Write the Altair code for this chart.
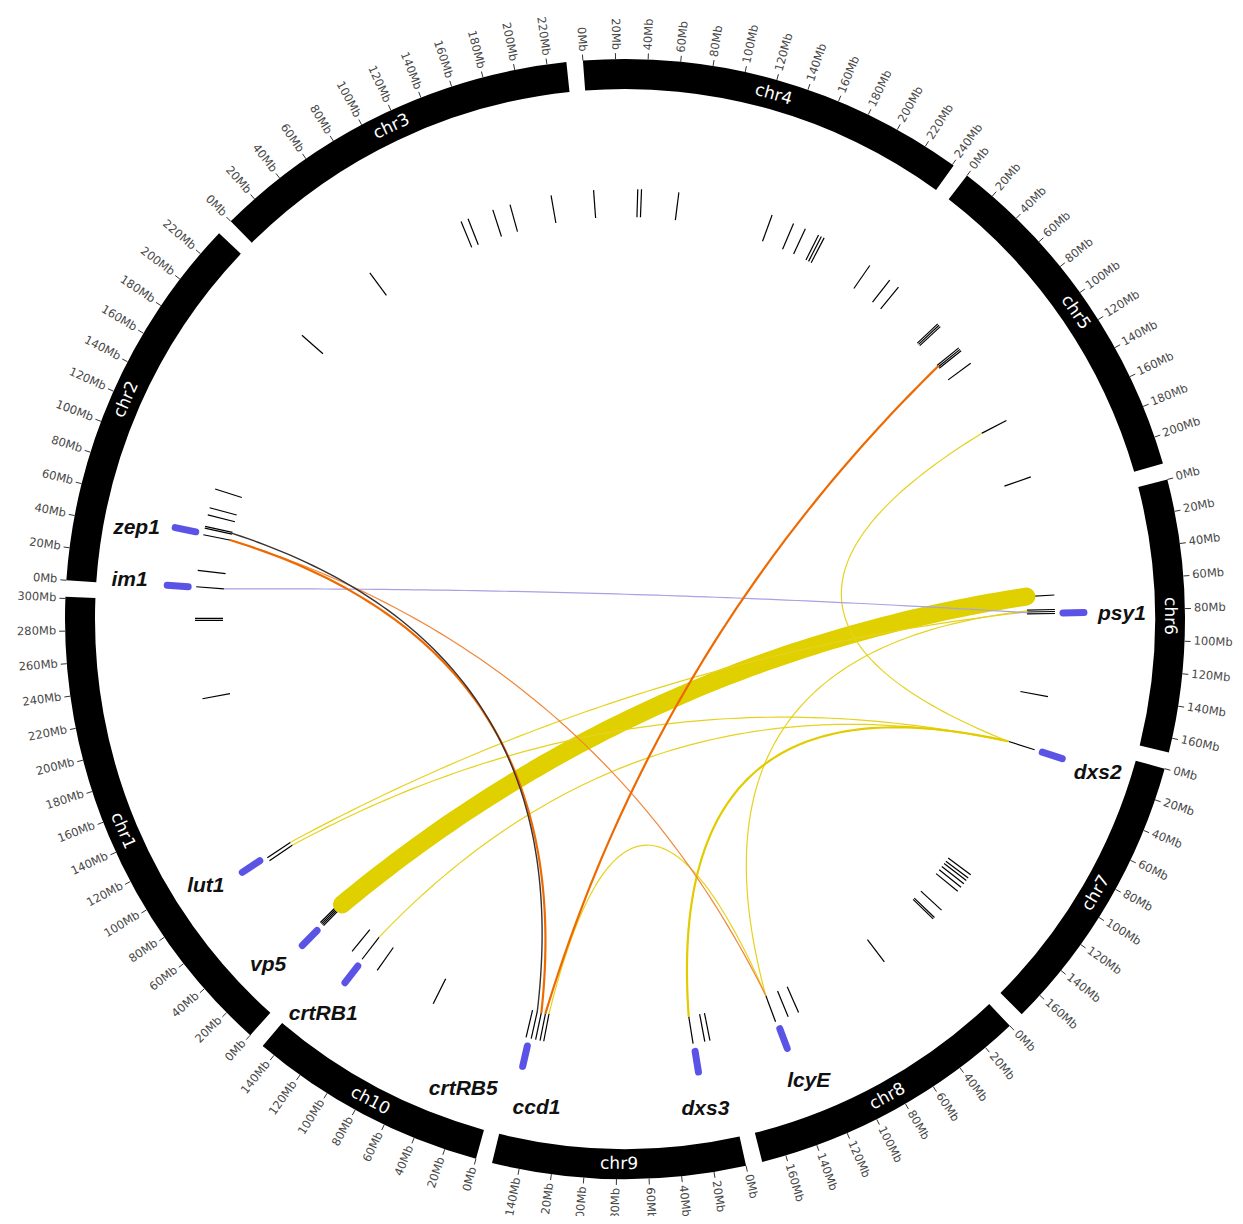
import math
import pandas as pd
import altair as alt

# ---------------- data ----------------
chrom_names = ["chr1", "chr2", "chr3", "chr4", "chr5", "chr6", "chr7", "chr8", "chr9", "chr10"]
chrom_labels = ["chr1", "chr2", "chr3", "chr4", "chr5", "chr6", "chr7", "chr8", "chr9", "ch10"]
chrom_len_mb = [301, 237, 232, 241, 217, 169, 176, 175, 157, 149]
tick_step_mb = 20

# short black feature lines (chromosome, Mb)
feat_chr = (["chr1"] * 9 + ["chr2"] * 9 + ["chr3"] * 6 + ["chr4"] * 11 + ["chr5"] * 11
            + ["chr6"] * 5 + ["chr7"] * 10 + ["chr8"] * 4 + ["chr9"] * 8 + ["chr10"] * 4)
feat_mb = ([15.0, 16.2, 17.4, 18.6, 82.5, 85.5, 223.4, 286.3, 288.0]
           + [2.0, 15.1, 43.9, 49.3, 50.7, 60.1, 66.0, 81.6, 223.5]
           + [50.0, 133.8, 139.8, 160.8, 175.1, 208.7]
           + [0.7, 36.0, 39.0, 68.9, 145.6, 164.0, 174.3, 186.0, 188.5, 191.0, 233.6]
           + [2.2, 11.1, 54.0, 55.5, 57.0, 79.5, 81.0, 82.5, 95.0, 148.9, 198.0]
           + [67.2, 78.8, 80.4, 82.0, 148.6]
           + [13.2, 125.7, 129.0, 131.5, 134.7, 138.3, 142.5, 162.3, 170.5, 172.0]
           + [37.8, 117.4, 126.4, 137.2]
           + [6.5, 10.7, 20.2, 140.0, 143.0, 146.6, 150.2, 154.4]
           + [66.2, 118.3, 133.3, 143.5])

# blue gene markers
marker_names = ["zep1", "im1", "psy1", "dxs2", "lut1", "vp5", "crtRB1", "ccd1", "dxs3", "lcyE"]
marker_chr = ["chr2", "chr2", "chr6", "chr7", "chr1", "chr1", "chr10", "chr9", "chr9", "chr8"]
marker_mb = [45.0, 1.5, 81.6, 13.2, 86.8, 16.0, 132.7, 151.9, 19.6, 136.0]

# gene name labels
label_names = ["zep1", "im1", "psy1", "dxs2", "lut1", "vp5", "crtRB1", "crtRB5", "ccd1", "dxs3", "lcyE"]
label_chr = ["chr2", "chr2", "chr6", "chr7", "chr1", "chr1", "chr10", "chr10", "chr9", "chr9", "chr8"]
label_mb = [39.7, 3.2, 82.8, 15.0, 92.8, 23.4, 131.5, 21.3, 136.2, 19.0, 130.0]

# links between loci
link_chr_a = ["chr2", "chr2", "chr2", "chr2", "chr1", "chr9", "chr1", "chr1", "chr10", "chr5", "chr6", "chr7", "chr9"]
link_mb_a = [49.9, 43.9, 43.9, 2.0, 16.5, 143.0, 85.5, 82.5, 133.3, 148.9, 79.5, 13.2, 140.0]
link_chr_b = ["chr9", "chr9", "chr8", "chr6", "chr6", "chr5", "chr6", "chr7", "chr7", "chr7", "chr8", "chr9", "chr8"]
link_mb_b = [150.2, 146.6, 137.2, 81.0, 67.2, 80.6, 80.4, 13.2, 13.2, 13.2, 137.2, 20.2, 137.2]
link_kind = ["dark", "orange", "orange_thin", "purple", "main", "orange", "yellow", "yellow",
             "yellow", "yellow", "yellow", "yellow_bold", "yellow"]

# ---------------- layout ----------------
START_DEG = 222.0
DEG_PER_MB = 0.167
GAP_DEG = 1.7
R_OUT, R_IN = 560, 530
R_TICK0, R_TICK1 = 560, 566
R_TICKLAB = 569
R_CHRLAB = 545
R_FEAT0, R_FEAT1 = 402, 430
R_MARK0, R_MARK1 = 438, 459
R_GENELAB = 497
R_LINK = 402

chrom_start = {}
acc = START_DEG
for n, L in zip(chrom_names, chrom_len_mb):
    chrom_start[n] = acc
    acc += L * DEG_PER_MB + GAP_DEG


def ang(c, mb):
    return (chrom_start[c] + mb * DEG_PER_MB) % 360


def xy(r, deg):
    a = math.radians(deg)
    return r * math.sin(a), r * math.cos(a)


xs = alt.Scale(domain=[-617, 610], nice=False, zero=False)
ys = alt.Scale(domain=[-597, 611], nice=False, zero=False)


def X(f):
    return alt.X(f, type="quantitative", scale=xs, axis=None)


def Y(f):
    return alt.Y(f, type="quantitative", scale=ys, axis=None)


# chromosome ring
ring_rows, chrlab_rows = [], []
for n, lab, L in zip(chrom_names, chrom_labels, chrom_len_mb):
    s = chrom_start[n]
    e = s + L * DEG_PER_MB
    ring_rows.append({"chr": n, "cx": 0, "cy": 0, "t0": math.radians(s), "t1": math.radians(e)})
    mid = ((s + e) / 2) % 360
    a = (mid - 180) if 90 < mid < 270 else mid
    x, y = xy(R_CHRLAB, mid)
    chrlab_rows.append({"label": lab, "x": x, "y": y, "angle": a % 360})
ring_df = pd.DataFrame(ring_rows)
chrlab_df = pd.DataFrame(chrlab_rows)

# ticks
tick_rows = []
for n, L in zip(chrom_names, chrom_len_mb):
    for mb in range(0, L + 1, tick_step_mb):
        t = ang(n, mb)
        x0, y0 = xy(R_TICK0, t)
        x1, y1 = xy(R_TICK1, t)
        xl, yl = xy(R_TICKLAB, t)
        if t < 180:
            half, a = "R", (t - 90) % 360
        else:
            half, a = "L", (t - 270) % 360
        tick_rows.append({"x": x0, "y": y0, "x2": x1, "y2": y1, "xl": xl, "yl": yl,
                          "label": f"{mb}Mb", "half": half, "angle": a})
tick_df = pd.DataFrame(tick_rows)

# features
feat_rows = []
for c, mb in zip(feat_chr, feat_mb):
    t = ang(c, mb)
    x0, y0 = xy(R_FEAT0, t)
    x1, y1 = xy(R_FEAT1, t)
    feat_rows.append({"x": x0, "y": y0, "x2": x1, "y2": y1})
feat_df = pd.DataFrame(feat_rows)

# markers
mark_rows = []
for g, c, mb in zip(marker_names, marker_chr, marker_mb):
    t = ang(c, mb)
    x0, y0 = xy(R_MARK0, t)
    x1, y1 = xy(R_MARK1, t)
    mark_rows.append({"gene": g, "x": x0, "y": y0, "x2": x1, "y2": y1})
mark_df = pd.DataFrame(mark_rows)

# gene labels
glab_rows = []
for g, c, mb in zip(label_names, label_chr, label_mb):
    x, y = xy(R_GENELAB, ang(c, mb))
    glab_rows.append({"gene": g, "x": x, "y": y})
glab_df = pd.DataFrame(glab_rows)

# links as quadratic bezier curves
link_rows = []
NSTEP = 80
for i, (ca, ma, cb, mbb, k) in enumerate(zip(link_chr_a, link_mb_a, link_chr_b, link_mb_b, link_kind)):
    ta, tb = ang(ca, ma), ang(cb, mbb)
    d = ((tb - ta + 540) % 360) - 180
    bis = ta + d / 2
    rb = 30 + 45 * (1 - abs(d) / 180)
    p0 = xy(R_LINK, ta)
    p2 = xy(R_LINK, tb)
    p1 = xy(rb, bis)
    for j in range(NSTEP + 1):
        u = j / NSTEP
        x = (1 - u) ** 2 * p0[0] + 2 * (1 - u) * u * p1[0] + u ** 2 * p2[0]
        y = (1 - u) ** 2 * p0[1] + 2 * (1 - u) * u * p1[1] + u ** 2 * p2[1]
        link_rows.append({"lid": i, "t": j, "x": x, "y": y, "kind": k})
link_df = pd.DataFrame(link_rows)

link_style = [  # drawing order: first = bottom
    ("main", "#E0D000", 18),
    ("yellow", "#E6D21E", 1.2),
    ("yellow_bold", "#E2CC00", 2.2),
    ("purple", "#A7A2E2", 1.2),
    ("orange_thin", "#F0873A", 1.2),
    ("orange", "#EE6A00", 2.2),
    ("dark", "#3A3030", 1.4),
]

layers = []
ring = alt.Chart(ring_df).mark_arc(innerRadius=R_IN, outerRadius=R_OUT, color="black").encode(
    x=X("cx"), y=Y("cy"),
    theta=alt.Theta("t0:Q", scale=None), theta2=alt.Theta2("t1:Q"))
layers.append(ring)

ticks = alt.Chart(tick_df).mark_rule(color="#333333", strokeWidth=1).encode(
    x=X("x"), y=Y("y"), x2=alt.X2("x2:Q"), y2=alt.Y2("y2:Q"))
layers.append(ticks)

for half, al in (("R", "left"), ("L", "right")):
    layers.append(alt.Chart(tick_df).transform_filter(alt.datum.half == half).mark_text(
        align=al, baseline="middle", font="DejaVu Sans", fontSize=11.5, color="#484848").encode(
        x=X("xl"), y=Y("yl"), text="label:N", angle=alt.Angle("angle:Q", scale=None)))

layers.append(alt.Chart(chrlab_df).mark_text(
    align="center", baseline="middle", font="DejaVu Sans", fontSize=17, color="white").encode(
    x=X("x"), y=Y("y"), text="label:N", angle=alt.Angle("angle:Q", scale=None)))

layers.append(alt.Chart(feat_df).mark_rule(color="black", strokeWidth=1.2).encode(
    x=X("x"), y=Y("y"), x2=alt.X2("x2:Q"), y2=alt.Y2("y2:Q")))

for k, col, w in link_style:
    layers.append(alt.Chart(link_df).transform_filter(alt.datum.kind == k).mark_line(
        color=col, strokeWidth=w, strokeCap="round", strokeJoin="round").encode(
        x=X("x"), y=Y("y"), detail="lid:N", order="t:Q"))

layers.append(alt.Chart(mark_df).mark_rule(color="#5B53E6", strokeWidth=7, strokeCap="round").encode(
    x=X("x"), y=Y("y"), x2=alt.X2("x2:Q"), y2=alt.Y2("y2:Q")))

layers.append(alt.Chart(glab_df).mark_text(
    align="center", baseline="middle", font="Liberation Sans", fontSize=21,
    fontStyle="italic", fontWeight="bold", color="#111111").encode(
    x=X("x"), y=Y("y"), text="gene:N"))

chart = alt.layer(*layers).properties(
    width=1227, height=1208, padding=0,
    autosize=alt.AutoSizeParams(type="none"),
).configure_view(stroke=None)

chart.save("out.html", embed_options={"renderer": "svg", "actions": False})
